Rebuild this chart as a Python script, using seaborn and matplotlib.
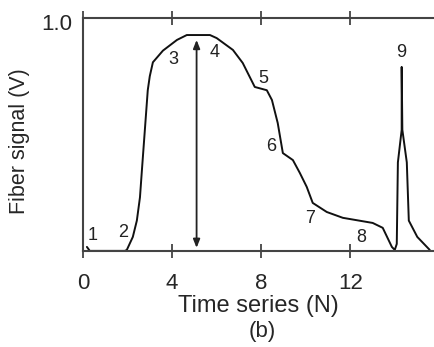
import numpy as np
import pandas as pd
import matplotlib
matplotlib.use("Agg")
import matplotlib.pyplot as plt
import matplotlib.transforms as mtransforms
import seaborn as sns

# curve (time index N, signal in volts)
time_n = [0.18, 0.31, 1.88, 1.97, 2.24, 2.42, 2.56, 2.65, 2.91, 3.0, 3.14,
          3.59, 4.22, 4.66, 5.70, 6.0, 6.73, 7.17, 7.71, 8.25, 8.48, 8.74,
          8.97, 9.42, 9.73, 10.04, 10.31, 10.94, 11.66, 13.0, 13.45, 13.86,
          13.99, 14.08, 14.13, 14.30, 14.30, 14.33, 14.53, 14.62, 15.0, 15.56]
signal_v = [0.017, 0.0, 0.0, 0.004, 0.06, 0.13, 0.23, 0.35, 0.69, 0.75, 0.81,
            0.86, 0.906, 0.927, 0.927, 0.914, 0.863, 0.807, 0.704, 0.69, 0.648,
            0.549, 0.42, 0.39, 0.335, 0.275, 0.206, 0.167, 0.142, 0.12, 0.099,
            0.017, 0.004, 0.03, 0.38, 0.52, 0.79, 0.52, 0.38, 0.13, 0.06, 0.004]

# numbered stage labels
stage_text = ["1", "2", "3", "4", "5", "6", "7", "8", "9"]
stage_x = [0.45, 1.8, 4.05, 5.9, 8.1, 8.45, 10.2, 12.5, 14.3]
stage_y = [0.065, 0.08, 0.82, 0.85, 0.74, 0.45, 0.14, 0.056, 0.85]

# double arrow showing the amplitude
arrow_x = 5.1
arrow_top = 0.906
arrow_bottom = 0.013

df = pd.DataFrame({"N": time_n, "V": signal_v})

sns.set_style("ticks")
plt.rcParams["font.family"] = ["Liberation Sans", "DejaVu Sans"]

fig = plt.figure(figsize=(4.34, 3.47), dpi=100)
ax = fig.add_axes([0.191, 0.277, 0.809, 0.671])

sns.lineplot(data=df, x="N", y="V", ax=ax, color="#111111", linewidth=1.4,
             sort=False, estimator=None)

for t, x, y in zip(stage_text, stage_x, stage_y):
    ax.text(x, y, t, fontsize=13, ha="center", va="center", color="#222222")

ax.annotate("", xy=(arrow_x, arrow_top), xytext=(arrow_x, arrow_bottom),
            arrowprops=dict(arrowstyle="<|-|>,head_length=0.5,head_width=0.2",
                            color="#222222", lw=1.3, shrinkA=0, shrinkB=0))

ax.set_xlim(0, 15.75)
ax.set_ylim(0, 1.0)
ax.set_xticks([0, 4, 8, 12])
ax.set_yticks([1.0])
ax.set_yticklabels(["1.0"])
ax.tick_params(axis="x", direction="inout", length=10, width=1.3,
               top=True, labelsize=16, pad=11, color="#444444")
ax.tick_params(axis="y", length=0, labelsize=16, pad=8)
# the "1.0" sits a little below the top spine in the original
shift = mtransforms.ScaledTranslation(0, -3 / 72, fig.dpi_scale_trans)
for lab in ax.get_yticklabels():
    lab.set_transform(lab.get_transform() + shift)

sns.despine(ax=ax, right=True, top=False)
for s in ["left", "bottom", "top"]:
    ax.spines[s].set_color("#444444")
    ax.spines[s].set_linewidth(1.5)

ax.set_xlabel("Time series (N)", fontsize=17, labelpad=1)
ax.set_ylabel("Fiber signal (V)", fontsize=15.5)
ax.yaxis.set_label_coords(-0.152, 0.47)
fig.text(0.605, 0.03, "(b)", fontsize=16, ha="center")

fig.savefig("out.png", dpi=100)
